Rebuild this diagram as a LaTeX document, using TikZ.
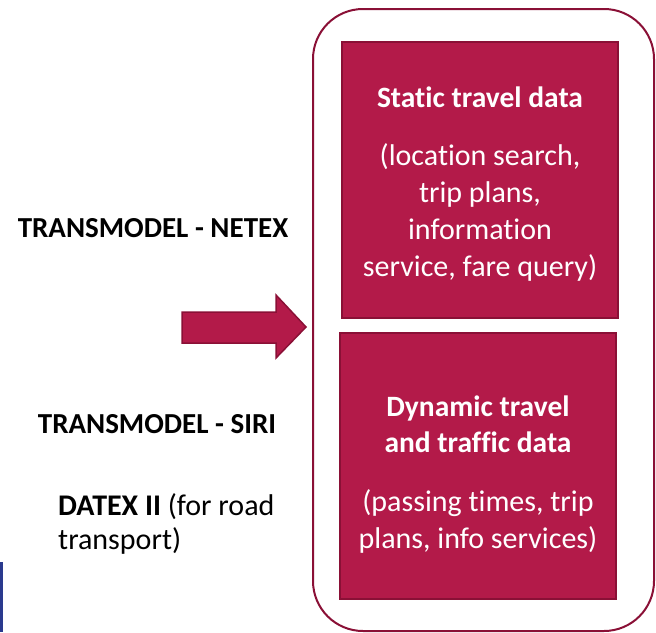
\documentclass[tikz,border=0pt]{standalone}
\usepackage{fontspec}
\setmainfont{Carlito}[Ligatures={NoCommon}]
\definecolor{boxfill}{HTML}{B31A49}
\definecolor{boxedge}{HTML}{8A1036}
\definecolor{navy}{HTML}{2A3A8E}
\begin{document}
\begin{tikzpicture}[x=1pt,y=-1pt,
  databox/.style={draw=boxedge,line width=2pt,fill=boxfill},
  boxtext/.style={text=white,align=center,font=\fontsize{30}{37}\selectfont},
  sidetext/.style={font=\fontsize{29}{34}\selectfont\bfseries,anchor=center}]
\useasboundingbox (0,0) rectangle (656,632);
% outer frame
\draw[boxedge,line width=2pt,rounded corners=50pt] (313,9) rectangle (654,631);
% the two data panels
\draw[databox] (342,42) rectangle (618,318);
\draw[databox] (340,333) rectangle (616,599);
% arrow
\draw[databox,line width=1.5pt] (182,312) -- (276,312) -- (276,295) -- (306,327)
  -- (276,358) -- (276,343) -- (182,343) -- cycle;
% blue edge at bottom left
\fill[navy] (0,562) rectangle (3,632);
% panel texts
\node[boxtext,font=\fontsize{29.5}{37}\selectfont\bfseries] (st) at (480,97) {Static travel data};
\node[boxtext] (sd) at (480,212) {(location search,\\trip plans,\\information\\service, fare query)};
\node[boxtext,font=\fontsize{29.5}{36}\selectfont\bfseries] (dt) at (478,424) {Dynamic travel\\and traffic data};
\node[boxtext] (dd) at (478,521) {(passing times, trip\\plans, info services)};
% standards
\node[sidetext] (netex) at (153,228) {TRANSMODEL - NETEX};
\node[sidetext] (siri) at (157,424) {TRANSMODEL - SIRI};
\node[font=\fontsize{30}{34}\selectfont,align=left,anchor=west,inner sep=0pt] (datex) at (58,524)
  {\textbf{DATEX II} (for road\\transport)};
\end{tikzpicture}
\end{document}
